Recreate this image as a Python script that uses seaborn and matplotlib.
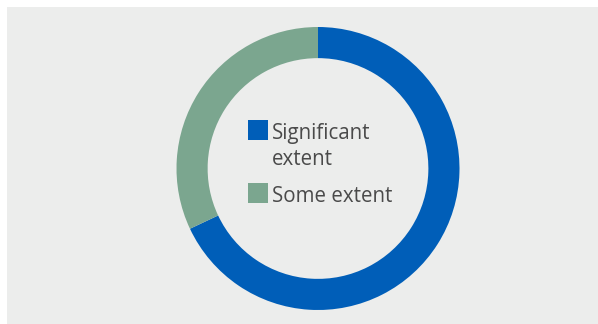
import seaborn as sns
import matplotlib.pyplot as plt
from matplotlib.patches import Rectangle

labels = ['Significant\nextent', 'Some extent']
shares = [68, 32]
colors = ['#005EB8', '#7BA68F']

sns.set_style('white')
plt.rcParams['font.family'] = ['Open Sans', 'DejaVu Sans']

W, H = 598, 324
fig = plt.figure(figsize=(W / 100, H / 100), dpi=100, facecolor='white')
# grey panel behind the chart, white strip on the left and top only
fig.patches.append(Rectangle((7 / W, 0), 1, 1 - 7 / H, transform=fig.transFigure,
                             facecolor='#ECEDEC', edgecolor='none', zorder=-10))

ax = fig.add_axes([(318 - 141.5) / W, 14 / H, 283 / W, 283 / H])
ax.set_facecolor('none')
ax.set_zorder(1)
wedges, _ = ax.pie(shares, colors=colors, startangle=90, counterclock=False, radius=1,
                   wedgeprops=dict(width=0.22, edgecolor='none'))
ax.set_xlim(-1, 1)
ax.set_ylim(-1, 1)
ax.set_aspect('equal')

# legend in the hole: square aligned with the first text line
tops = [120, 183]
for lab, col, top in zip(labels, colors, tops):
    fig.patches.append(Rectangle((248 / W, 1 - (top + 20) / H), 20 / W, 20 / H,
                                 transform=fig.transFigure, facecolor=col,
                                 edgecolor='none', zorder=2))
    for i, line in enumerate(lab.split('\n')):
        fig.text(272 / W, 1 - (top + 19 + 26 * i) / H, line, fontsize=14.8,
                 color='#4A4A4A', ha='left', va='baseline', zorder=2)

fig.savefig('out.png', dpi=100, facecolor='white')
